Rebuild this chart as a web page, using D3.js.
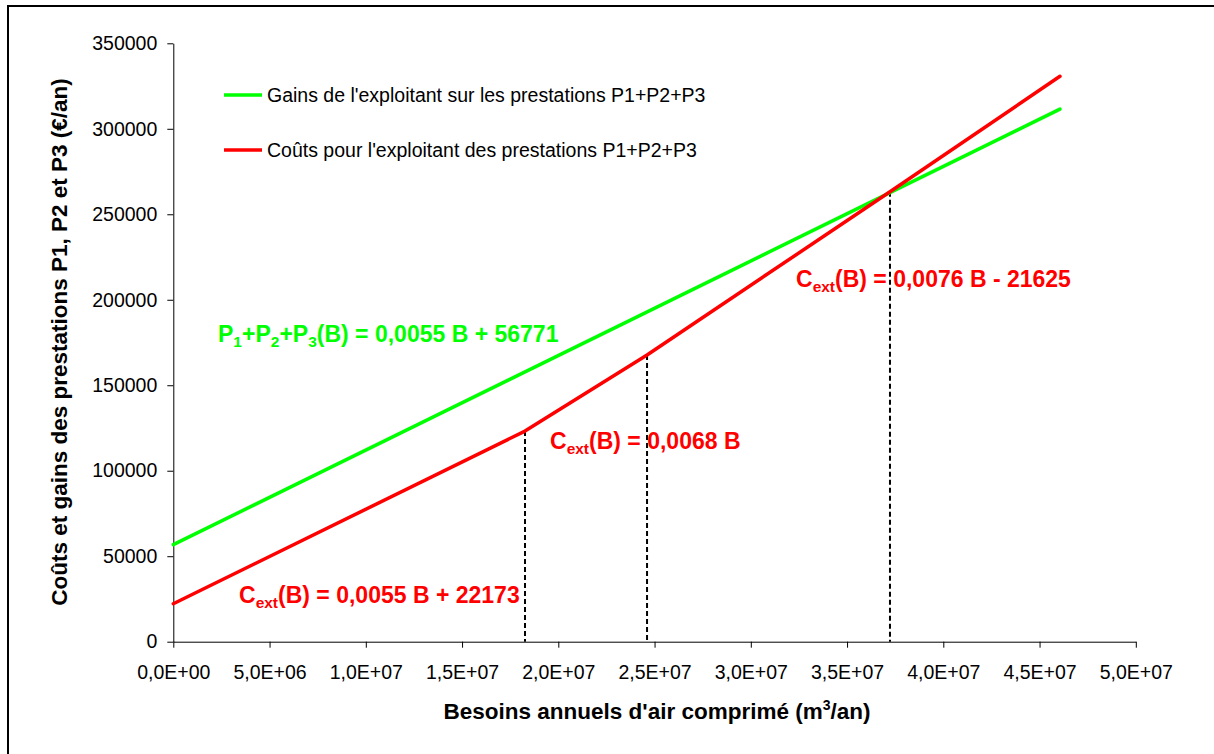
<!DOCTYPE html>
<html>
<head>
<meta charset="utf-8">
<script src="https://cdn.jsdelivr.net/npm/d3@7/dist/d3.min.js"></script>
<style>
  html, body { margin: 0; padding: 0; background: #fff; }
  svg { display: block; font-family: "Liberation Sans", Arial, sans-serif; }
</style>
</head>
<body>
<svg id="chart" width="1214" height="754"></svg>
<script>
// Annual compressed-air needs (m3/an) and the operator's gains / costs (€/an)
const gainsB = [0, 46060000];
const gainsValues = [56771, 311500];

const coutsB = [0, 18270000, 24610000, 37230000, 46060000];
const coutsValues = [22173, 123200, 167700, 263200, 330700];

// indices of the cost curve where the tariff changes (marked by dashed drop lines)
const breakIndices = [1, 2, 3];

const xTickValues = [0, 5e6, 1e7, 1.5e7, 2e7, 2.5e7, 3e7, 3.5e7, 4e7, 4.5e7, 5e7];
const xTickLabels = ["0,0E+00", "5,0E+06", "1,0E+07", "1,5E+07", "2,0E+07", "2,5E+07",
                     "3,0E+07", "3,5E+07", "4,0E+07", "4,5E+07", "5,0E+07"];
const yTickValues = [0, 50000, 100000, 150000, 200000, 250000, 300000, 350000];

const legendLabels = ["Gains de l'exploitant sur les prestations P1+P2+P3",
                      "Coûts pour l'exploitant des prestations P1+P2+P3"];
const seriesColors = ["#00ff00", "#ff0000"];

const svg = d3.select("#chart");

// outer frame
svg.append("rect")
  .attr("x", 8).attr("y", 6)
  .attr("width", 1230).attr("height", 770)
  .attr("fill", "none").attr("stroke", "#000").attr("stroke-width", 2);

const x = d3.scaleLinear().domain([0, 5e7]).range([173.3, 1135.8]);
const y = d3.scaleLinear().domain([0, 350000]).range([641.7, 43.3]);

// axes
const yAxis = d3.axisLeft(y).tickValues(yTickValues).tickFormat(d3.format("d"))
  .tickSize(6).tickSizeOuter(0).tickPadding(10);
const xAxis = d3.axisBottom(x).tickValues(xTickValues).tickFormat((d, i) => xTickLabels[i])
  .tickSize(6).tickSizeOuter(0).tickPadding(17);

const gy = svg.append("g").attr("transform", `translate(${x(0)},0)`).call(yAxis);
const gx = svg.append("g").attr("transform", `translate(0,${y(0)})`).call(xAxis);
[gx, gy].forEach(g => {
  g.selectAll("text").attr("font-family", "Liberation Sans, Arial, sans-serif")
    .attr("font-size", "19.5px").attr("fill", "#000");
  g.selectAll("line").attr("stroke", "#000");
  g.select(".domain").attr("stroke", "#000");
});

// axis titles
const xTitle = svg.append("text")
  .attr("x", 657).attr("y", 719)
  .attr("text-anchor", "middle")
  .attr("font-size", "22.5px").attr("font-weight", "bold");
xTitle.append("tspan").text("Besoins annuels d'air comprimé (m");
xTitle.append("tspan").attr("font-size", "14px").attr("dy", -9).text("3");
xTitle.append("tspan").attr("dy", 9).text("/an)");

svg.append("text")
  .attr("transform", "translate(67,342) rotate(-90)")
  .attr("text-anchor", "middle")
  .attr("font-size", "22.5px").attr("font-weight", "bold")
  .text("Coûts et gains des prestations P1, P2 et P3 (€/an)");

// series
const line = d3.line().x(d => x(d[0])).y(d => y(d[1]));
const gainsPts = gainsB.map((b, i) => [b, gainsValues[i]]);
const coutsPts = coutsB.map((b, i) => [b, coutsValues[i]]);

// dashed drop lines at the tariff breaks
svg.append("g").selectAll("line")
  .data(breakIndices)
  .join("line")
  .attr("x1", i => x(coutsB[i])).attr("x2", i => x(coutsB[i]))
  .attr("y1", i => y(coutsValues[i])).attr("y2", y(0))
  .attr("stroke", "#000").attr("stroke-width", 2)
  .attr("stroke-dasharray", "5,3");

svg.append("path").datum(gainsPts)
  .attr("d", line).attr("fill", "none")
  .attr("stroke", seriesColors[0]).attr("stroke-width", 3.5)
  .attr("stroke-linecap", "round").attr("stroke-linejoin", "round");

svg.append("path").datum(coutsPts)
  .attr("d", line).attr("fill", "none")
  .attr("stroke", seriesColors[1]).attr("stroke-width", 3.5)
  .attr("stroke-linecap", "round").attr("stroke-linejoin", "round");

// legend
const legend = svg.append("g").selectAll("g")
  .data(legendLabels)
  .join("g")
  .attr("transform", (d, i) => `translate(224,${95 + i * 55})`);
legend.append("line")
  .attr("x1", 0).attr("x2", 38).attr("y1", 0).attr("y2", 0)
  .attr("stroke", (d, i) => seriesColors[i]).attr("stroke-width", 3.5);
legend.append("text")
  .attr("x", 43).attr("dy", "0.36em")
  .attr("font-size", "19.5px").attr("fill", "#000")
  .text(d => d);

// equation labels
function equation(px, py, color, parts) {
  const t = svg.append("text")
    .attr("x", px).attr("y", py)
    .attr("font-size", "23px").attr("font-weight", "bold")
    .attr("fill", color);
  let shift = 0;
  parts.forEach(p => {
    const sub = typeof p !== "string";
    const target = sub ? 5 : 0;
    const s = t.append("tspan").attr("dy", target - shift).text(sub ? p.sub : p);
    if (sub) s.attr("font-size", "15.5px");
    shift = target;
  });
}

equation(218, 342, seriesColors[0],
  ["P", {sub: "1"}, "+P", {sub: "2"}, "+P", {sub: "3"}, "(B) = 0,0055 B + 56771"]);
equation(239, 603, seriesColors[1], ["C", {sub: "ext"}, "(B) = 0,0055 B + 22173"]);
equation(550, 449, seriesColors[1], ["C", {sub: "ext"}, "(B) = 0,0068 B"]);
equation(796, 287, seriesColors[1], ["C", {sub: "ext"}, "(B) = 0,0076 B - 21625"]);
</script>
</body>
</html>
